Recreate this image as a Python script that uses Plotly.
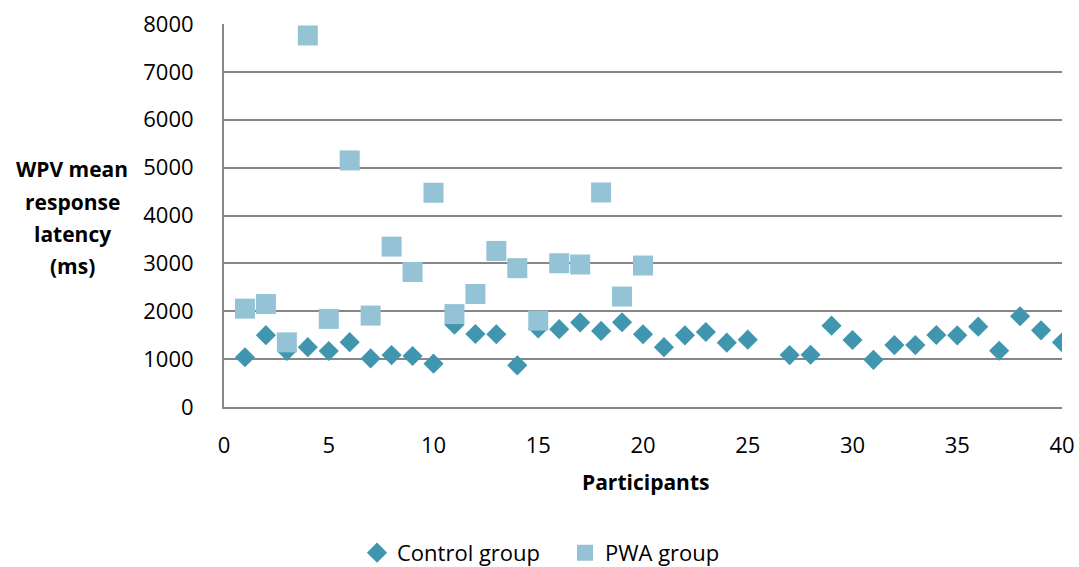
import plotly.graph_objects as go

control_x = [1, 2, 3, 4, 5, 6, 7, 8, 9, 10, 11, 12, 13, 14, 15, 16, 17, 18, 19, 20,
             21, 22, 23, 24, 25, 27, 28, 29, 30, 31, 32, 33, 34, 35, 36, 37, 38, 39, 40]
control_y = [1040, 1500, 1170, 1250, 1170, 1355, 1015, 1085, 1065, 905, 1720, 1525, 1520, 870, 1640,
             1625, 1765, 1590, 1770, 1520, 1250, 1497, 1566, 1343, 1406, 1084, 1091, 1699, 1399, 986,
             1294, 1294, 1503, 1497, 1678, 1175, 1895, 1601, 1350]

pwa_x = list(range(1, 21))
pwa_y = [2055, 2150, 1350, 7760, 1840, 5150, 1910, 3350, 2820, 4475,
         1940, 2360, 3260, 2900, 1805, 3003, 2976, 4481, 2307, 2955]

x_ticks = [0, 5, 10, 15, 20, 25, 30, 35, 40]
y_ticks = [0, 1000, 2000, 3000, 4000, 5000, 6000, 7000, 8000]
y_title_lines = ["WPV mean", "response", "latency", "(ms)"]

FONT = "Open Sans"
GRID = "#878787"

fig = go.Figure()
fig.add_trace(go.Scatter(
    x=control_x, y=control_y, mode="markers", name="Control group",
    marker=dict(symbol="diamond", size=15.5, color="#4096AE", line=dict(width=0)),
))
fig.add_trace(go.Scatter(
    x=pwa_x, y=pwa_y, mode="markers", name="PWA group",
    marker=dict(symbol="square", size=20, color="#93C3D5", line=dict(width=0)),
))

fig.update_layout(
    width=1079, height=567,
    margin=dict(l=224, r=17, t=24, b=160, autoexpand=False),
    paper_bgcolor="white", plot_bgcolor="white",
    font=dict(family=FONT, size=22, color="#000000"),
    showlegend=True,
    legend=dict(
        orientation="h", xref="container", yref="container",
        x=357 / 1079, xanchor="left", y=0.025, yanchor="middle",
        font=dict(family=FONT, size=22, color="#000000"),
        itemwidth=30, entrywidth=163, entrywidthmode="pixels",
    ),
    xaxis=dict(
        range=[0, 40], tickvals=x_ticks, ticktext=[str(v) for v in x_ticks],
        showgrid=False, zeroline=False, automargin=False,
        showline=True, linecolor=GRID, linewidth=2,
        ticks="", ticklabelstandoff=18,
        tickfont=dict(family=FONT, size=22),
    ),
    yaxis=dict(
        range=[0, 8000], tickvals=y_ticks, ticktext=[str(v) for v in y_ticks],
        showgrid=True, gridcolor=GRID, gridwidth=1.6, zeroline=False, automargin=False,
        showline=True, linecolor=GRID, linewidth=2,
        ticks="", ticklabelstandoff=24,
        tickfont=dict(family=FONT, size=22),
    ),
)

# x axis title
fig.add_annotation(
    text="<b>Participants</b>", xref="paper", yref="paper",
    x=(645 - 224) / 838, y=(407 - 482) / 383, xanchor="center", yanchor="middle",
    showarrow=False, font=dict(family=FONT, size=21, color="#000000"),
)

# y axis title, line by line
line_centers = [169, 202, 234, 266]
for txt, py in zip(y_title_lines, line_centers):
    fig.add_annotation(
        text=f"<b>{txt}</b>", xref="paper", yref="paper",
        x=(72 - 224) / 838, y=(407 - py) / 383, xanchor="center", yanchor="middle",
        showarrow=False, font=dict(family=FONT, size=21, color="#000000"),
    )

fig.write_html("out.html")
